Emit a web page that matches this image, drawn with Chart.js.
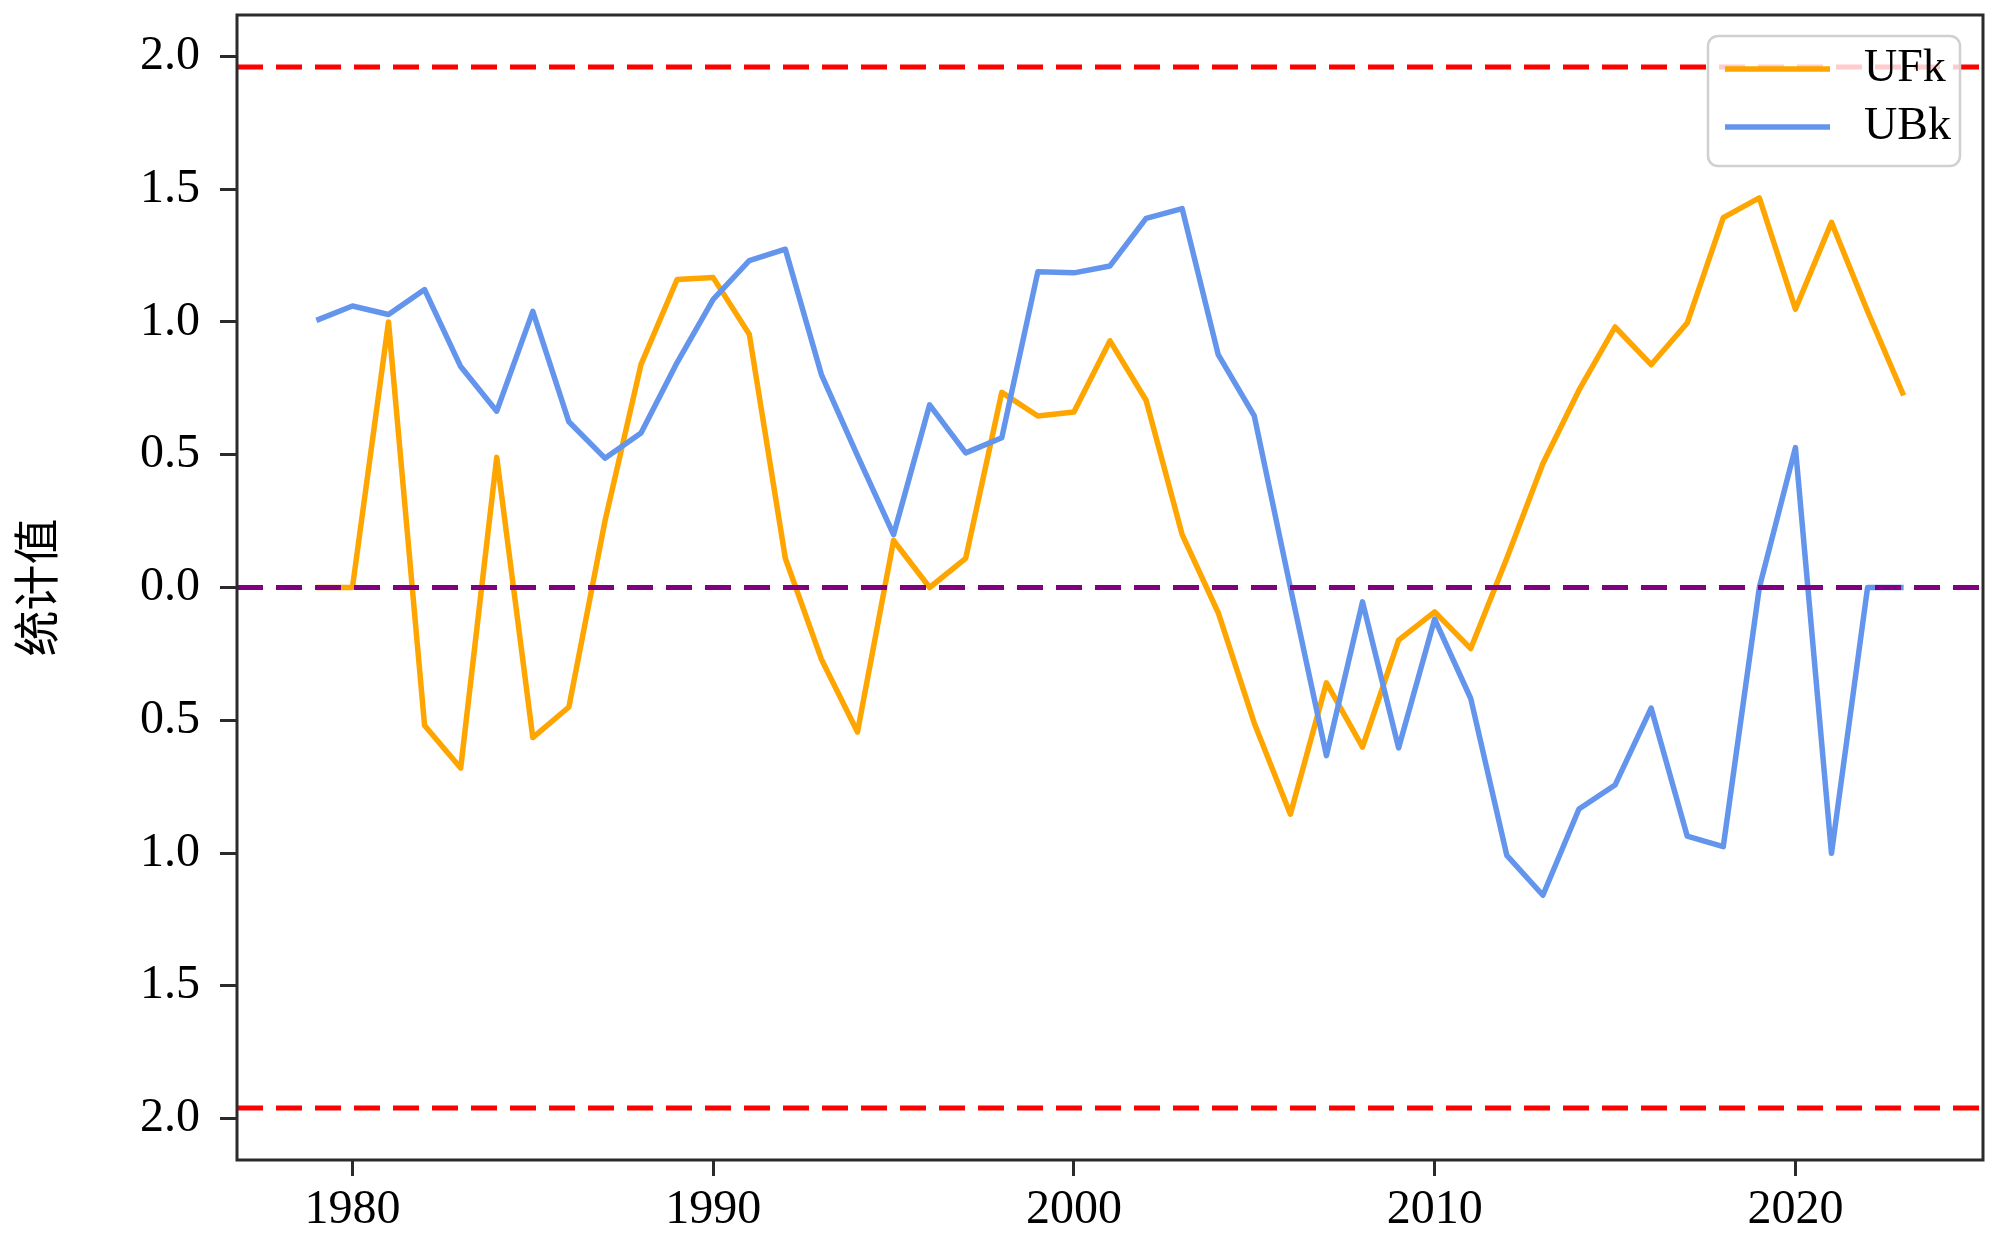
<!DOCTYPE html>
<html>
<head>
<meta charset="utf-8">
<title>UFk / UBk 统计值</title>
<script src="https://cdn.jsdelivr.net/npm/chart.js@4.4.1/dist/chart.umd.min.js"></script>
<style>
    html, body { margin: 0; padding: 0; background: #fff; }
    #wrap { width: 2000px; height: 1240px; }
</style>
</head>
<body>
<div id="wrap"><canvas id="mkChart" width="2000" height="1240"></canvas></div>
<script>
        // Data
        const years = [1979, 1980, 1981, 1982, 1983, 1984, 1985, 1986, 1987, 1988,
                       1989, 1990, 1991, 1992, 1993, 1994, 1995, 1996, 1997, 1998,
                       1999, 2000, 2001, 2002, 2003, 2004, 2005, 2006, 2007, 2008,
                       2009, 2010, 2011, 2012, 2013, 2014, 2015, 2016, 2017, 2018,
                       2019, 2020, 2021, 2022, 2023];
        const ufk = [0, 0, 1.00, -0.52, -0.68, 0.49, -0.565, -0.45, 0.25, 0.84,
                     1.16, 1.167, 0.954, 0.11, -0.27, -0.544, 0.177, 0.0, 0.11, 0.735,
                     0.646, 0.661, 0.929, 0.705, 0.199, -0.095, -0.511, -0.854, -0.359, -0.601,
                     -0.198, -0.092, -0.23, 0.11, 0.467, 0.743, 0.981, 0.839, 0.996, 1.393,
                     1.467, 1.048, 1.375, 1.04, 0.723];
        const ubk = [1.006, 1.06, 1.028, 1.122, 0.832, 0.664, 1.04, 0.624, 0.487, 0.582,
                     0.847, 1.085, 1.231, 1.274, 0.802, 0.497, 0.199, 0.688, 0.507, 0.564,
                     1.189, 1.185, 1.211, 1.39, 1.427, 0.877, 0.646, 0.0, -0.633, -0.054,
                     -0.604, -0.119, -0.418, -1.009, -1.159, -0.834, -0.744, -0.454, -0.936, -0.976,
                     0.0, 0.527, -1.001, 0.0, 0.0];
        const seriesNames = ['UFk', 'UBk'];
        const refLines = [1.96, -1.96, 0];
        const xTicks = [1980, 1990, 2000, 2010, 2020];
        const yTicks = [-2.0, -1.5, -1.0, -0.5, 0.0, 0.5, 1.0, 1.5, 2.0];

        // matplotlib-like 5% margins
        const xSpan = years[years.length - 1] - years[0];
        const xMin = years[0] - 0.05 * xSpan;
        const xMax = years[years.length - 1] + 0.05 * xSpan;
        const allY = [...ufk, ...ubk, ...refLines];
        const yLo = Math.min(...allY), yHi = Math.max(...allY);
        const yMin = yLo - 0.05 * (yHi - yLo);
        const yMax = yHi + 0.05 * (yHi - yLo);

        const serif = '"Liberation Serif", "DejaVu Serif", serif';
        const axisColor = '#2b2b2b';

        // dashed reference lines, frame and legend box
        const mkDecor = {
            id: 'mkDecor',
            afterDatasetsDraw(chart, args, opts) {
                const { ctx, chartArea: a, scales: { y } } = chart;
                ctx.save();
                ctx.lineWidth = 5;
                ctx.setLineDash([26, 13]);
                refLines.forEach((v, i) => {
                    const py = y.getPixelForValue(v);
                    ctx.strokeStyle = opts.colors[i];
                    ctx.beginPath();
                    ctx.moveTo(a.left, py);
                    ctx.lineTo(a.right, py);
                    ctx.stroke();
                });
                ctx.restore();
            },
            afterDraw(chart) {
                const { ctx, chartArea: a } = chart;
                ctx.save();
                ctx.strokeStyle = axisColor;
                ctx.lineWidth = 3;
                ctx.strokeRect(a.left, a.top, a.right - a.left, a.bottom - a.top);

                // legend
                const bx = a.right - 275, by = a.top + 21, bw = 252, bh = 130;
                ctx.beginPath();
                ctx.roundRect(bx, by, bw, bh, 10);
                ctx.fillStyle = 'rgba(255,255,255,0.8)';
                ctx.fill();
                ctx.strokeStyle = '#d0d0d0';
                ctx.lineWidth = 2.5;
                ctx.stroke();

                ctx.font = '46px ' + serif;
                ctx.textBaseline = 'middle';
                ctx.textAlign = 'left';
                chart.data.datasets.forEach((ds, i) => {
                    const ly = by + 33 + i * 58;
                    ctx.strokeStyle = ds.borderColor;
                    ctx.lineWidth = 5.5;
                    ctx.beginPath();
                    ctx.moveTo(bx + 17, ly);
                    ctx.lineTo(bx + 122, ly);
                    ctx.stroke();
                    ctx.fillStyle = '#000';
                    ctx.fillText(ds.label, bx + 156, ly);
                });
                ctx.restore();
            }
        };

        const ctx = document.getElementById('mkChart').getContext('2d');
        new Chart(ctx, {
            type: 'line',
            data: {
                datasets: [{
                    label: seriesNames[0],
                    data: years.map((yr, i) => ({ x: yr, y: ufk[i] })),
                    borderColor: '#FFA500',
                    borderWidth: 5.5,
                    pointRadius: 0,
                    tension: 0,
                    borderJoinStyle: 'round',
                    order: 1
                }, {
                    label: seriesNames[1],
                    data: years.map((yr, i) => ({ x: yr, y: ubk[i] })),
                    borderColor: '#6495ED',
                    borderWidth: 5.5,
                    pointRadius: 0,
                    tension: 0,
                    borderJoinStyle: 'round',
                    order: 0
                }]
            },
            options: {
                responsive: false,
                animation: false,
                devicePixelRatio: 1,
                layout: { padding: { top: 15, right: 17, left: 0, bottom: 0 } },
                scales: {
                    x: {
                        type: 'linear',
                        min: xMin,
                        max: xMax,
                        afterBuildTicks: axis => { axis.ticks = xTicks.map(v => ({ value: v })); },
                        afterFit: axis => {
                            axis.height = 80;
                            axis.paddingLeft = 0;
                            axis.paddingRight = 0;
                        },
                        border: { display: false },
                        grid: {
                            drawOnChartArea: false,
                            drawTicks: true,
                            tickLength: 16,
                            tickWidth: 3,
                            tickColor: axisColor
                        },
                        ticks: {
                            color: '#000',
                            font: { family: serif, size: 48 },
                            padding: 6,
                            maxRotation: 0,
                            autoSkip: false,
                            callback: v => String(v)
                        }
                    },
                    y: {
                        type: 'linear',
                        min: yMin,
                        max: yMax,
                        afterBuildTicks: axis => { axis.ticks = yTicks.map(v => ({ value: v })); },
                        afterFit: axis => {
                            axis.width = 237;
                            axis.paddingTop = 0;
                            axis.paddingBottom = 0;
                        },
                        border: { display: false },
                        grid: {
                            drawOnChartArea: false,
                            drawTicks: true,
                            tickLength: 17,
                            tickWidth: 3,
                            tickColor: axisColor
                        },
                        ticks: {
                            color: '#000',
                            font: { family: serif, size: 48 },
                            padding: 20,
                            // the source figure lost its minus signs
                            callback: v => Math.abs(v).toFixed(1)
                        },
                        title: {
                            display: true,
                            text: '统计值',
                            color: '#000',
                            font: { family: '"Noto Sans CJK SC"', size: 46 },
                            padding: { top: 8, bottom: 0 }
                        }
                    }
                },
                plugins: {
                    legend: { display: false },
                    tooltip: { enabled: false },
                    mkDecor: { colors: ['#FF0000', '#FF0000', '#800080'] }
                }
            },
            plugins: [mkDecor]
        });
</script>
</body>
</html>
